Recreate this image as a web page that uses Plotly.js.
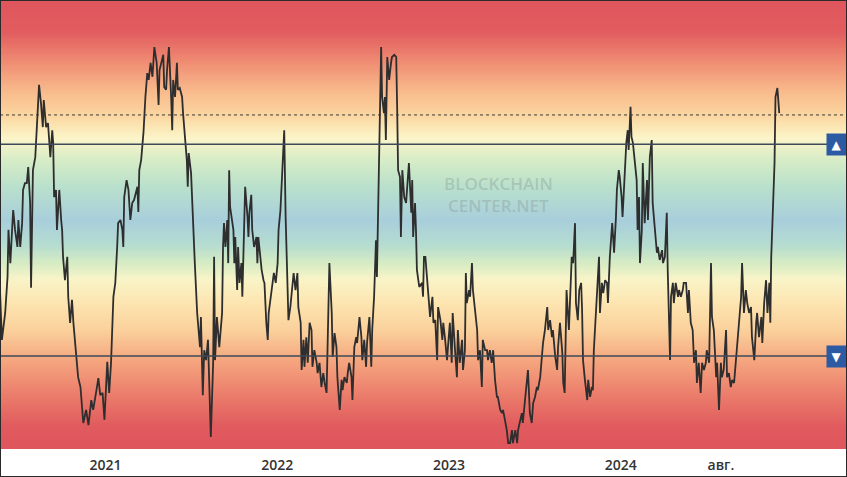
<!DOCTYPE html>
<html>
<head>
<meta charset="utf-8">
<script src="https://cdn.plot.ly/plotly-3.0.1.min.js"></script>
<style>
  html, body { margin: 0; padding: 0; background: #fff; }
  #wrap { position: relative; width: 847px; height: 477px; }
  #chart { width: 847px; height: 477px; }
  #frame { position: absolute; left: 0; top: 0; width: 845px; height: 475px; border: 1px solid #2a2a2a; pointer-events: none; }
</style>
</head>
<body>
<div id="wrap">
  <div id="chart"></div>
  <div id="frame"></div>
</div>
<script>
// oscillator readings (0..100 index)
const dates2020 = ['2020-05-22','2020-05-26','2020-06-02','2020-06-07','2020-06-09','2020-06-13','2020-06-17','2020-06-19','2020-06-23','2020-06-28','2020-06-30',
  '2020-07-04','2020-07-08','2020-07-10','2020-07-14','2020-07-18','2020-07-21','2020-07-25','2020-07-27','2020-07-29','2020-07-31',
  '2020-08-05','2020-08-09','2020-08-13','2020-08-17','2020-08-21','2020-08-23','2020-08-28',
  '2020-09-01','2020-09-06','2020-09-10','2020-09-12','2020-09-14','2020-09-18','2020-09-20','2020-09-25','2020-09-29',
  '2020-10-01','2020-10-03','2020-10-07','2020-10-12','2020-10-14','2020-10-18','2020-10-22','2020-10-25','2020-10-31',
  '2020-11-04','2020-11-09','2020-11-13','2020-11-15','2020-11-21','2020-11-26',
  '2020-12-02','2020-12-06','2020-12-13','2020-12-17','2020-12-21','2020-12-26','2020-12-30'];
const values2020 = [35.4, 24.3, 30.3, 38.3, 48.8, 41.4, 49.4, 53.2, 48.8, 45.0, 51.0,
  45.0, 50.3, 57.7, 59.2, 59.2, 62.8, 54.8, 35.9, 53.9, 62.1,
  65.0, 74.8, 81.1, 77.1, 71.7, 77.7, 71.7,
  72.6, 65.0, 71.0, 68.2, 56.1, 57.7, 48.8, 57.7, 51.0,
  48.8, 42.8, 37.6, 42.8, 33.9, 28.1, 33.2, 28.1, 20.5,
  16.0, 13.8, 9.4, 5.8, 8.7, 5.3,
  10.9, 8.7, 13.1, 15.8, 12.0, 12.5, 6.5];

const dates2021 = ['2021-01-03','2021-01-05','2021-01-09','2021-01-13','2021-01-18','2021-01-22','2021-01-26','2021-01-28',
  '2021-02-02','2021-02-06','2021-02-08','2021-02-10','2021-02-15','2021-02-19','2021-02-23','2021-02-27',
  '2021-03-03','2021-03-10','2021-03-12','2021-03-14','2021-03-18','2021-03-23','2021-03-27','2021-03-31',
  '2021-04-03','2021-04-07','2021-04-11','2021-04-15','2021-04-20','2021-04-24','2021-04-26','2021-04-30',
  '2021-05-04','2021-05-06','2021-05-10','2021-05-12','2021-05-16','2021-05-21','2021-05-23','2021-05-25','2021-05-29',
  '2021-06-02','2021-06-04','2021-06-08','2021-06-13','2021-06-15','2021-06-19','2021-06-23','2021-06-25','2021-06-27',
  '2021-07-02','2021-07-04','2021-07-06','2021-07-10','2021-07-15','2021-07-17','2021-07-21','2021-07-23','2021-07-27','2021-07-30',
  '2021-08-03','2021-08-07','2021-08-09','2021-08-13','2021-08-18','2021-08-20','2021-08-22','2021-08-26','2021-08-31',
  '2021-09-02','2021-09-06','2021-09-08','2021-09-10','2021-09-13','2021-09-17','2021-09-19','2021-09-21','2021-09-23','2021-09-28','2021-09-30',
  '2021-10-02','2021-10-04','2021-10-08','2021-10-10','2021-10-13','2021-10-17','2021-10-19','2021-10-23','2021-10-25','2021-10-30',
  '2021-11-01','2021-11-03','2021-11-07','2021-11-09','2021-11-13','2021-11-18','2021-11-20','2021-11-22','2021-11-24','2021-11-29',
  '2021-12-03','2021-12-05','2021-12-09','2021-12-12','2021-12-14','2021-12-18','2021-12-22','2021-12-25','2021-12-29'];
const values2021 = [14.7, 19.4, 12.5, 19.2, 33.9, 37.0, 45.0, 50.3,
  51.0, 48.8, 45.0, 56.1, 59.9, 57.7, 51.0, 54.8,
  55.5, 58.4, 52.8, 62.1, 64.4, 70.6, 78.4, 83.7,
  82.2, 86.0, 82.9, 89.5, 86.0, 76.6, 84.4, 86.0,
  87.8, 80.6, 80.0, 84.4, 89.5, 77.7, 71.0, 82.2, 78.4,
  86.0, 80.0, 80.4, 78.4, 74.8, 68.8, 64.4, 58.4, 65.9,
  61.5, 56.1, 48.8, 41.4, 30.3, 28.1, 22.7, 29.4, 12.0, 22.0,
  19.8, 24.3, 18.3, 2.7, 19.2, 42.8, 19.8, 29.4, 22.7,
  24.9, 30.3, 45.0, 50.3, 45.0, 51.0, 41.4, 62.1, 53.9, 50.3, 48.8,
  41.4, 47.2, 35.4, 45.0, 37.0, 41.4, 33.9, 47.2, 58.4, 51.7,
  47.2, 52.6, 56.6, 48.8, 45.0, 47.2, 41.4, 47.2, 45.0, 39.9,
  37.6, 37.0, 28.1, 24.3, 30.3, 33.9, 36.1, 39.2, 37.0];

const dates2022 = ['2022-01-02','2022-01-04','2022-01-08','2022-01-12','2022-01-16','2022-01-19','2022-01-23','2022-01-25','2022-01-29',
  '2022-02-02','2022-02-05','2022-02-09','2022-02-13','2022-02-15','2022-02-20','2022-02-22','2022-02-26','2022-02-28',
  '2022-03-04','2022-03-07','2022-03-11','2022-03-15','2022-03-17','2022-03-21','2022-03-26','2022-03-28',
  '2022-04-01','2022-04-05','2022-04-09','2022-04-12','2022-04-16','2022-04-18','2022-04-22','2022-04-27','2022-04-29',
  '2022-05-03','2022-05-07','2022-05-09','2022-05-14','2022-05-18','2022-05-20','2022-05-24','2022-05-29','2022-05-31',
  '2022-06-03','2022-06-08','2022-06-10','2022-06-14','2022-06-18','2022-06-20','2022-06-25','2022-06-29',
  '2022-07-01','2022-07-05','2022-07-09','2022-07-11','2022-07-16','2022-07-20','2022-07-22','2022-07-26','2022-07-30',
  '2022-08-01','2022-08-03','2022-08-05','2022-08-10','2022-08-12','2022-08-16','2022-08-18','2022-08-20','2022-08-23','2022-08-27','2022-08-31',
  '2022-09-02','2022-09-07','2022-09-11','2022-09-13','2022-09-15','2022-09-19','2022-09-21','2022-09-24','2022-09-28',
  '2022-10-02','2022-10-04','2022-10-08','2022-10-13','2022-10-15','2022-10-17','2022-10-21','2022-10-23','2022-10-25','2022-10-30',
  '2022-11-05','2022-11-07','2022-11-09','2022-11-12','2022-11-16','2022-11-18','2022-11-22','2022-11-27','2022-11-29',
  '2022-12-03','2022-12-07','2022-12-09','2022-12-14','2022-12-18','2022-12-20','2022-12-24','2022-12-28','2022-12-30'];
const values2022 = [41.4, 48.8, 53.2, 62.1, 71.0, 51.7, 37.0, 28.7, 31.6,
  37.0, 39.2, 35.4, 39.2, 31.6, 28.1, 17.6, 24.3, 18.3,
  24.9, 19.2, 28.1, 26.5, 18.3, 22.0, 19.2, 16.9,
  19.2, 13.8, 16.9, 14.7, 12.5, 22.0, 41.4, 30.3, 20.5,
  25.8, 22.7, 16.0, 8.7, 15.4, 13.1, 16.0, 14.7, 16.9,
  19.2, 16.0, 10.9, 22.7, 24.9, 23.6, 29.4, 24.9,
  19.8, 24.3, 18.3, 23.6, 29.4, 18.3, 26.5, 33.9, 46.5,
  38.3, 48.8, 62.1, 89.5, 78.4, 74.8, 78.4, 68.8, 87.3, 82.2, 86.0,
  87.3, 87.8, 87.3, 76.2, 62.1, 60.6, 47.2, 62.1, 56.1,
  54.8, 57.7, 63.7, 52.6, 59.9, 47.2, 54.8, 48.8, 39.9, 36.1,
  37.0, 33.9, 42.8, 42.8, 37.0, 35.4, 29.4, 33.9, 28.1,
  28.7, 19.8, 31.6, 28.7, 24.3, 28.1, 24.3, 19.8, 22.7];

const dates2023 = ['2023-01-03','2023-01-07','2023-01-09','2023-01-14','2023-01-18','2023-01-20','2023-01-24','2023-01-29','2023-01-31',
  '2023-02-04','2023-02-06','2023-02-08','2023-02-13','2023-02-15','2023-02-19','2023-02-21','2023-02-25',
  '2023-03-02','2023-03-04','2023-03-08','2023-03-12','2023-03-14','2023-03-19','2023-03-23','2023-03-25','2023-03-29',
  '2023-04-02','2023-04-05','2023-04-09','2023-04-13','2023-04-15','2023-04-20','2023-04-24','2023-04-26','2023-04-30',
  '2023-05-04','2023-05-07','2023-05-11','2023-05-15','2023-05-17','2023-05-22','2023-05-26','2023-05-28',
  '2023-06-01','2023-06-05','2023-06-07','2023-06-12','2023-06-16','2023-06-18','2023-06-22','2023-06-26','2023-06-29',
  '2023-07-03','2023-07-07','2023-07-09','2023-07-14','2023-07-18','2023-07-20','2023-07-24','2023-07-29','2023-07-31',
  '2023-08-04','2023-08-08','2023-08-10','2023-08-15','2023-08-19','2023-08-21','2023-08-25','2023-08-30',
  '2023-09-01','2023-09-04','2023-09-06','2023-09-08','2023-09-13','2023-09-17','2023-09-19','2023-09-22','2023-09-26','2023-09-28',
  '2023-10-02','2023-10-05','2023-10-09','2023-10-11','2023-10-13','2023-10-17','2023-10-22','2023-10-24','2023-10-28',
  '2023-11-01','2023-11-03','2023-11-05','2023-11-09','2023-11-12','2023-11-16','2023-11-18','2023-11-22','2023-11-25','2023-11-29',
  '2023-12-03','2023-12-05','2023-12-09','2023-12-14','2023-12-16','2023-12-18','2023-12-22','2023-12-24','2023-12-28','2023-12-30'];
const values2023 = [28.1, 19.2, 30.3, 22.0, 16.0, 26.5, 19.2, 24.3, 17.6,
  22.0, 39.2, 32.5, 35.4, 33.9, 41.4, 35.4, 31.6,
  26.5, 19.8, 22.0, 13.8, 24.3, 22.0, 22.0, 19.8, 22.0,
  19.2, 22.0, 15.4, 11.6, 11.6, 8.7, 8.0, 8.7, 6.5,
  4.2, 1.3, 1.3, 4.2, 1.3, 4.2, 1.3, 4.2,
  5.8, 8.0, 5.8, 11.6, 14.7, 17.6, 8.0, 5.8, 10.2,
  11.6, 13.8, 13.1, 16.0, 21.4, 23.6, 26.5, 31.6, 26.5,
  28.7, 24.9, 26.5, 20.5, 17.6, 22.7, 28.1, 21.4,
  14.7, 12.5, 26.5, 35.4, 26.5, 37.0, 42.8, 41.4, 50.3, 32.5,
  28.7, 35.4, 37.0, 31.0, 19.8, 15.4, 10.9, 15.4, 11.6,
  13.8, 13.1, 22.0, 28.7, 34.7, 42.8, 30.3, 37.0, 34.7, 37.6,
  37.0, 32.5, 42.8, 50.3, 47.2, 43.7, 51.7, 57.7, 62.1, 60.6];

const dates2024 = ['2024-01-03','2024-01-05','2024-01-09','2024-01-13','2024-01-16','2024-01-18','2024-01-22','2024-01-24','2024-01-27','2024-01-31',
  '2024-02-04','2024-02-06','2024-02-09','2024-02-11','2024-02-15','2024-02-17','2024-02-21','2024-02-26','2024-02-28',
  '2024-03-03','2024-03-07','2024-03-09','2024-03-14','2024-03-18','2024-03-20','2024-03-24','2024-03-29','2024-03-31',
  '2024-04-04','2024-04-08','2024-04-10','2024-04-15','2024-04-17','2024-04-21','2024-04-23','2024-04-27',
  '2024-05-02','2024-05-04','2024-05-08','2024-05-12','2024-05-14','2024-05-19','2024-05-23','2024-05-25','2024-05-29',
  '2024-06-02','2024-06-05','2024-06-09','2024-06-11','2024-06-15','2024-06-19','2024-06-22','2024-06-26','2024-06-30',
  '2024-07-02','2024-07-07','2024-07-11','2024-07-13','2024-07-17','2024-07-22','2024-07-24','2024-07-28',
  '2024-08-01','2024-08-03','2024-08-07','2024-08-12','2024-08-14','2024-08-18','2024-08-22','2024-08-25','2024-08-29',
  '2024-09-02','2024-09-04','2024-09-08','2024-09-13','2024-09-15','2024-09-19','2024-09-23','2024-09-26','2024-09-30',
  '2024-10-04','2024-10-06','2024-10-11','2024-10-15','2024-10-17','2024-10-21','2024-10-26','2024-10-28',
  '2024-11-01','2024-11-05','2024-11-08','2024-11-12','2024-11-14','2024-11-16','2024-11-20','2024-11-23','2024-11-25','2024-11-29',
  '2024-12-01','2024-12-03'];
const values2024 = [56.1, 51.7, 59.9, 68.2, 71.0, 66.6, 76.2, 69.5, 68.2, 63.7,
  59.9, 48.8, 56.1, 41.4, 48.8, 63.7, 50.3, 59.9, 51.0,
  65.0, 68.8, 54.8, 48.8, 43.7, 45.0, 42.1, 44.3, 41.4,
  42.8, 52.6, 39.9, 19.8, 33.9, 37.0, 32.5, 37.0,
  33.9, 35.4, 33.9, 35.4, 37.0, 37.0, 30.3, 35.4, 28.1,
  26.5, 19.2, 22.0, 14.7, 19.2, 12.5, 19.2, 17.6, 19.2,
  22.0, 19.2, 41.4, 29.4, 26.5, 16.0, 19.2, 8.7,
  19.2, 16.0, 17.6, 26.5, 16.0, 16.9, 13.8, 15.4, 14.7,
  19.8, 24.3, 28.7, 33.9, 41.4, 30.3, 35.4, 32.5, 30.3,
  31.6, 24.9, 19.8, 28.1, 30.3, 24.9, 29.4, 23.6,
  32.5, 37.6, 30.3, 37.0, 28.1, 42.8, 56.1, 63.7, 78.4, 80.4,
  77.7, 74.8];

// reference levels
const upperLevel = 67.9;
const lowerLevel = 20.7;
const dottedLevel = 74.4;

// axis labels
const tickDates = ['2021-01-01', '2022-01-01', '2023-01-01', '2024-01-01', '2024-08-01'];
const tickLabels = ['2021', '2022', '2023', '2024', 'авг.'];
const xRange = ['2020-05-22', '2025-04-26'];

// background bands: red top -> yellow -> green -> blue middle -> ... -> red bottom
const bandStops = [
  [0, '#df565c'], [5, '#e05a5e'], [12, '#eb7c6b'], [19.8, '#f5a67f'], [26.5, '#fad09b'],
  [33, '#fde6b2'], [38, '#f8f4c8'], [41.6, '#d5ebc4'], [45.4, '#b6ddcf'], [51, '#a8cedc'],
  [58.8, '#bae1cb'], [64.4, '#d6ecc6'], [69.3, '#fbf5c9'], [74.4, '#fbd6a0'], [80, '#f8b98b'],
  [86.6, '#ef8a72'], [93, '#e15c5f'], [100, '#df565c']
];

const dates = [].concat(dates2020, dates2021, dates2022, dates2023, dates2024);
const values = [].concat(values2020, values2021, values2022, values2023, values2024);

// heatmap used as a vertical gradient behind the line
const bgY = [];
const bgZ = [];
for (let v = 0; v <= 100; v += 0.5) {
    bgY.push(v);
    bgZ.push([v, v]);
}

const background = {
    type: 'heatmap',
    x: xRange,
    y: bgY,
    z: bgZ,
    zmin: 0,
    zmax: 100,
    zsmooth: 'best',
    colorscale: bandStops.map(s => [s[0] / 100, s[1]]),
    showscale: false,
    hoverinfo: 'skip'
};

const line = {
    type: 'scatter',
    mode: 'lines',
    x: dates,
    y: values,
    line: { color: '#2e2e2e', width: 1.8 },
    hoverinfo: 'skip'
};

function levelMarker(level, symbol) {
    return {
        xref: 'paper', x: 1, xanchor: 'right',
        yref: 'y', y: level, yanchor: 'middle',
        text: symbol,
        showarrow: false,
        font: { family: 'DejaVu Sans', size: 12, color: '#ffffff' },
        bgcolor: '#2c5aa3',
        width: 19, height: 21,
        borderpad: 0
    };
}

const layout = {
    width: 847,
    height: 477,
    margin: { l: 0, r: 0, t: 0, b: 28 },
    paper_bgcolor: '#ffffff',
    plot_bgcolor: '#ffffff',
    showlegend: false,
    xaxis: {
        type: 'date',
        range: xRange,
        tickvals: tickDates,
        ticktext: tickLabels,
        showgrid: false,
        zeroline: false,
        showline: false,
        ticks: '',
        ticklabelstandoff: 6,
        tickfont: { family: 'Open Sans', size: 14, color: '#333333', weight: 600 }
    },
    yaxis: {
        range: [0, 100],
        showgrid: false,
        zeroline: false,
        showticklabels: false,
        ticks: ''
    },
    shapes: [
        { type: 'line', xref: 'paper', x0: 0, x1: 1, yref: 'y', y0: dottedLevel, y1: dottedLevel,
          line: { color: '#3a3a3a', width: 1, dash: 'dot' } },
        { type: 'line', xref: 'paper', x0: 0, x1: 1, yref: 'y', y0: upperLevel, y1: upperLevel,
          line: { color: '#3d4858', width: 1.5 } },
        { type: 'line', xref: 'paper', x0: 0, x1: 1, yref: 'y', y0: lowerLevel, y1: lowerLevel,
          line: { color: '#3d4858', width: 1.5 } }
    ],
    annotations: [
        levelMarker(upperLevel, '▲'),
        levelMarker(lowerLevel, '▼'),
        // watermark
        { xref: 'paper', yref: 'paper', x: 0.588, y: 0.566, yanchor: 'middle',
          text: 'BLOCKCHAIN<br>CENTER.NET', showarrow: false,
          font: { family: 'Open Sans', size: 17, color: 'rgba(130,145,145,0.35)', weight: 600 } }
    ]
};

Plotly.newPlot('chart', [background, line], layout, { displayModeBar: false, staticPlot: true });
</script>
</body>
</html>
